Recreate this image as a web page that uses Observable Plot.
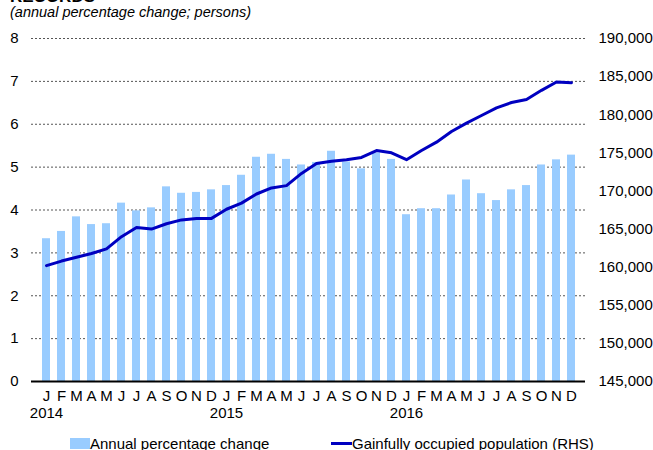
<!DOCTYPE html>
<html>
<head>
<meta charset="utf-8">
<script src="https://cdn.jsdelivr.net/npm/d3@7"></script>
<script src="https://cdn.jsdelivr.net/npm/@observablehq/plot@0.6"></script>
<style>
  html, body { margin: 0; padding: 0; background: #fff; }
  body { width: 653px; height: 450px; overflow: hidden; position: relative; font-family: "Liberation Sans", Arial, sans-serif; color: #000; }
  #title { position: absolute; left: 10px; top: -13px; font-weight: bold; font-size: 17px; white-space: nowrap; }
  #subtitle { position: absolute; left: 10px; top: 4px; font-style: italic; font-size: 14.5px; white-space: nowrap; }
  #chart { position: absolute; left: 0; top: 0; }
  #legend { position: absolute; left: 0; top: 435px; width: 653px; height: 18px; font-size: 15px; line-height: 17px; }
  .item { position: absolute; top: 0; white-space: nowrap; display: flex; align-items: center; }
  .swatch { display: inline-block; width: 20px; height: 11px; background: #99CCFF; }
  .lineswatch { display: inline-block; width: 21px; height: 3px; background: #0000C0; }
</style>
</head>
<body>
<div id="title">RECORDS</div>
<div id="subtitle">(annual percentage change; persons)</div>
<div id="chart"></div>
<div id="legend">
  <div class="item" style="left:70px"><span class="swatch"></span><span>Annual percentage change</span></div>
  <div class="item" style="left:331px"><span class="lineswatch"></span><span>Gainfully occupied population (RHS)</span></div>
</div>
<script>
const monthLetters = ["J","F","M","A","M","J","J","A","S","O","N","D"];
const years = ["2014","2015","2016"];
const pctChange = [
  3.33, 3.50, 3.84, 3.66, 3.68, 4.16, 3.98, 4.05, 4.54, 4.39, 4.41, 4.47,
  4.57, 4.81, 5.23, 5.30, 5.18, 5.05, 5.11, 5.37, 5.12, 4.96, 5.33, 5.18,
  3.89, 4.03, 4.03, 4.35, 4.70, 4.38, 4.22, 4.47, 4.57, 5.05, 5.17, 5.28
];
const population = [
  160200, 160800, 161300, 161800, 162400, 164000, 165200, 165000, 165700, 166200, 166400, 166400,
  167600, 168400, 169600, 170400, 170700, 172300, 173600, 173900, 174100, 174400, 175300, 175000,
  174100, 175300, 176400, 177800, 178900, 179900, 180900, 181600, 182000, 183200, 184300, 184200
];
const leftTicks = [0, 1, 2, 3, 4, 5, 6, 7, 8];
const rightTicks = [145000, 150000, 155000, 160000, 165000, 170000, 175000, 180000, 185000, 190000];

const popMin = 145000, popMax = 190000, leftMax = 8;
const toLeft = v => (v - popMin) / (popMax - popMin) * leftMax;
const fromLeft = u => popMin + u / leftMax * (popMax - popMin);

const rows = pctChange.map((v, i) => ({
  key: i,
  month: monthLetters[i % 12],
  year: years[Math.floor(i / 12)],
  pct: v,
  pop: population[i]
}));
const yearRows = rows.filter(d => d.key % 12 === 0);
const fmt = d3.format(",");

const chart = Plot.plot({
  width: 653,
  height: 425,
  marginTop: 38,
  marginBottom: 44,
  marginLeft: 31,
  marginRight: 68,
  style: { fontFamily: "Liberation Sans, Arial, sans-serif", fontSize: "15px", color: "#000", background: "transparent" },
  x: { type: "band", domain: rows.map(d => d.key), padding: 0.48, axis: null, label: null },
  y: { domain: [0, leftMax], axis: null, label: null },
  marks: [
    Plot.gridY(leftTicks.slice(1), { stroke: "#555", strokeOpacity: 1, strokeWidth: 1, strokeDasharray: "2,2" }),
    Plot.barY(rows, { x: "key", y: "pct", fill: "#99CCFF" }),
    Plot.ruleY([0], { stroke: "#000", strokeWidth: 2 }),
    Plot.lineY(rows, { x: "key", y: d => toLeft(d.pop), stroke: "#0000C0", strokeWidth: 3, strokeLinejoin: "round" }),
    Plot.axisY(leftTicks, { anchor: "left", label: null, tickSize: 0, tickPadding: 13, fontSize: 15 }),
    Plot.axisY(rightTicks.map(toLeft), { anchor: "right", label: null, tickSize: 0, tickPadding: 13, fontSize: 15, tickFormat: u => fmt(Math.round(fromLeft(u))) }),
    Plot.axisX({ label: null, tickSize: 0, tickPadding: 9, fontSize: 15, tickFormat: k => monthLetters[k % 12] }),
    Plot.text(yearRows, { x: "key", text: "year", frameAnchor: "bottom", dy: 36, fontSize: 15 })
  ]
});
document.getElementById("chart").appendChild(chart);
</script>
</body>
</html>
